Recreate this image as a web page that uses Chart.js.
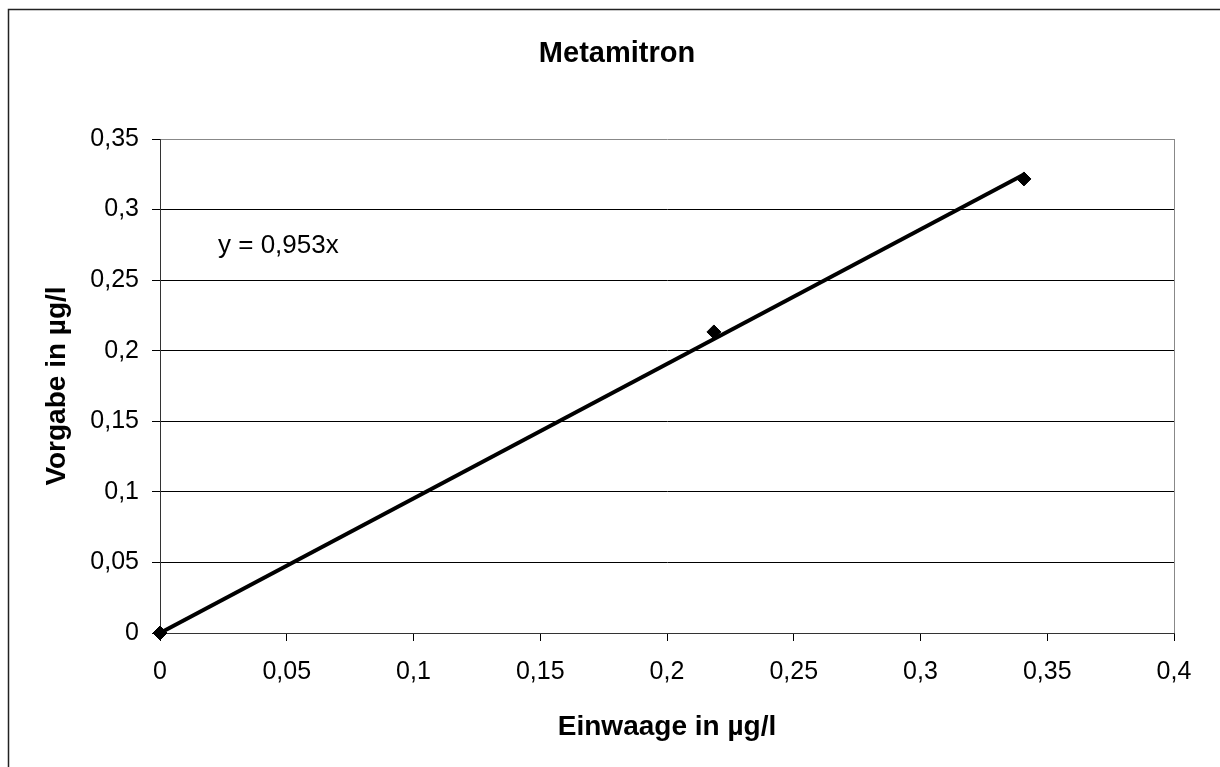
<!DOCTYPE html>
<html>
<head>
<meta charset="utf-8">
<script src="https://cdn.jsdelivr.net/npm/chart.js@4/dist/chart.umd.min.js"></script>
<style>
  html, body { margin: 0; padding: 0; background: #fff; }
  #wrap { width: 1220px; height: 767px; }
</style>
</head>
<body>
<div id="wrap"><canvas id="c" width="1220" height="767"></canvas></div>
<script>
// measured points (Einwaage, Vorgabe)
const einwaage = [0, 0.2185, 0.3408];
const vorgabe = [0, 0.2133, 0.3217];
// trendline ends
const trendX = [0, 0.3408];
const trendY = [0, 0.3248];
const chartTitle = 'Metamitron';
const xTitle = 'Einwaage in µg/l';
const yTitle = 'Vorgabe in µg/l';
const equation = 'y = 0,953x';

Chart.defaults.font.family = '"Liberation Sans", Arial, sans-serif';
Chart.defaults.color = '#000';

const fmt = v => Number(v.toFixed(2)).toString().replace('.', ',');

let points = einwaage.map((x, i) => ({x, y: vorgabe[i]}));
let trend = trendX.map((x, i) => ({x, y: trendY[i]}));

const extras = {
    id: 'extras',
    afterDraw(chart) {
        const ctx = chart.ctx;
        const a = chart.chartArea;
        ctx.save();
        // outer frame
        ctx.strokeStyle = '#222';
        ctx.lineWidth = 1.5;
        ctx.strokeRect(8.5, 9.5, 1240, 800);
        // right border of plot area
        ctx.strokeStyle = '#888';
        ctx.lineWidth = 1;
        ctx.beginPath();
        ctx.moveTo(Math.round(a.right) + 0.5, a.top);
        ctx.lineTo(Math.round(a.right) + 0.5, a.bottom);
        ctx.stroke();
        // title
        ctx.fillStyle = '#000';
        ctx.textAlign = 'center';
        ctx.textBaseline = 'alphabetic';
        ctx.font = 'bold 29px "Liberation Sans", Arial, sans-serif';
        ctx.fillText(chartTitle, 617, 62);
        // equation
        ctx.textAlign = 'left';
        ctx.font = '26px "Liberation Sans", Arial, sans-serif';
        ctx.fillText(equation, 218, 253);
        ctx.restore();
    }
};

new Chart(document.getElementById('c'), {
    type: 'scatter',
    data: {
        datasets: [
            {
                data: points,
                pointStyle: 'rectRot',
                pointRadius: 7,
                backgroundColor: '#000',
                borderColor: '#000',
                clip: false,
                order: 0
            },
            {
                type: 'line',
                data: trend,
                borderColor: '#000',
                borderWidth: 4,
                pointRadius: 0,
                fill: false,
                order: 1
            }
        ]
    },
    options: {
        responsive: false,
        animation: false,
        layout: { padding: { left: 0, right: 46, top: 139, bottom: 0 } },
        plugins: {
            legend: { display: false },
            tooltip: { enabled: false }
        },
        scales: {
            x: {
                type: 'linear',
                min: 0,
                max: 0.4,
                afterFit: s => { s.height = 134; },
                ticks: { stepSize: 0.05, padding: 16, font: { size: 25 }, callback: fmt, maxRotation: 0 },
                grid: { drawOnChartArea: false, tickLength: 8, tickColor: '#000' },
                border: { color: '#333', width: 1 },
                title: {
                    display: true,
                    text: xTitle,
                    font: { size: 28, weight: 'bold' },
                    padding: { top: 0, bottom: 23 }
                }
            },
            y: {
                min: 0,
                max: 0.35,
                afterFit: s => { s.width = 160; },
                ticks: { stepSize: 0.05, padding: 13, font: { size: 25 }, callback: fmt },
                grid: {
                    tickLength: 8,
                    tickColor: '#000',
                    color: ctx => (ctx.tick && ctx.tick.value >= 0.349) ? '#888' : '#000'
                },
                border: { color: '#333', width: 1 },
                title: {
                    display: true,
                    text: yTitle,
                    font: { size: 28, weight: 'bold' },
                    padding: { top: 40, bottom: 0 }
                }
            }
        }
    },
    plugins: [extras]
});
</script>
</body>
</html>
